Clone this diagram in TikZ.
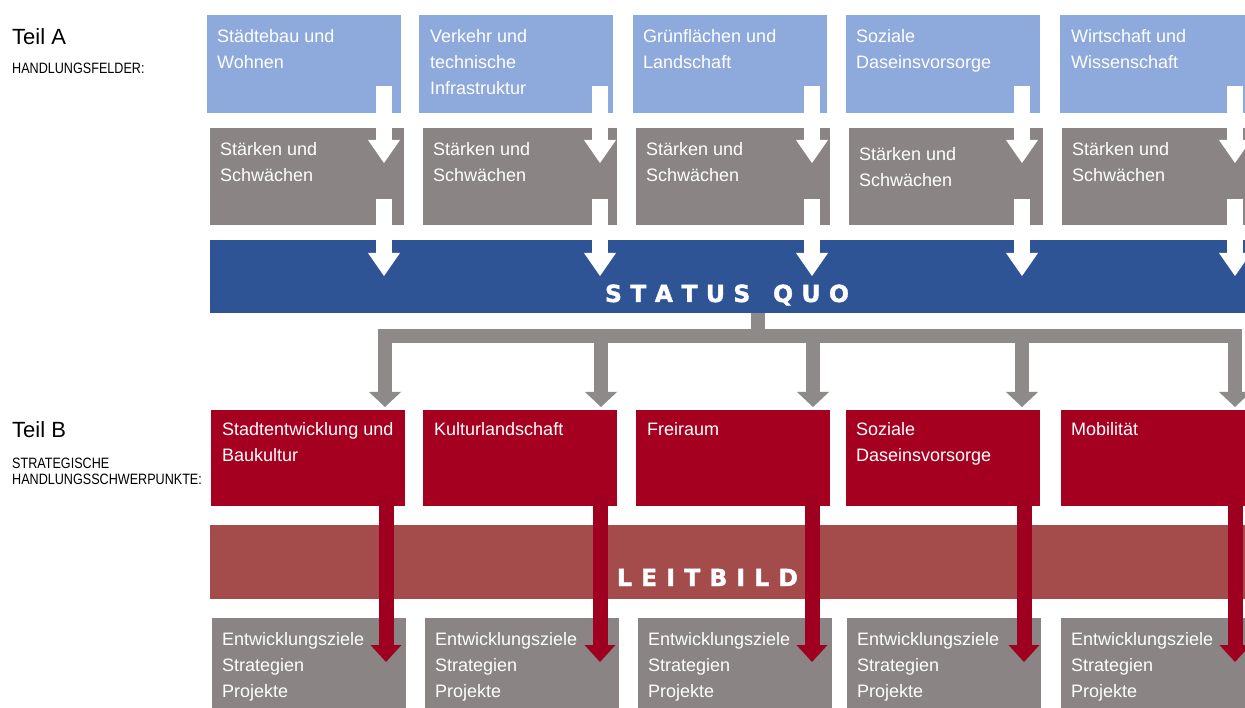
\documentclass[tikz,border=0pt]{standalone}
\usepackage{fontspec}
\setmainfont{Liberation Sans}
\newfontfamily\narrowfont[FakeStretch=0.84]{Liberation Sans}
\newfontfamily\widebold[FakeBold=1.6]{DejaVu Sans Bold}
\usetikzlibrary{arrows.meta,calc}
\definecolor{lblue}{HTML}{8EA9DB}
\definecolor{boxgray}{HTML}{8A8484}
\definecolor{sqblue}{HTML}{2F5496}
\definecolor{boxred}{HTML}{A60021}
\definecolor{arrred}{HTML}{A0001F}
\definecolor{lbred}{HTML}{A44C4C}
\definecolor{conngray}{HTML}{8F8A8A}
\tikzset{gtip/.tip={Triangle[width=32pt,length=15pt,line width=0pt]}}
\begin{document}
\begin{tikzpicture}[x=1pt,y=-1pt,
  box/.style={rectangle, inner sep=0pt, outer sep=0pt, anchor=north west, minimum width=194pt},
  blueb/.style={box, fill=lblue, minimum height=98pt},
  grayb/.style={box, fill=boxgray, minimum height=97pt},
  redb/.style={box, fill=boxred, minimum height=96pt},
  botb/.style={box, fill=boxgray, minimum height=100pt},
  barbox/.style={box, minimum width=1050pt, minimum height=74pt},
  lbl/.style={anchor=north west, inner sep=0pt, align=left, text=white, font=\fontsize{18}{26}\selectfont},
  side/.style={anchor=base west, inner sep=0pt, text=black},
  bigword/.style={anchor=base, inner sep=0pt, text=white, font=\widebold\fontsize{23.5}{26}\selectfont},
  warrow/.style={draw=white, line width=16pt, -{Triangle[width=32pt,length=23pt,line width=0pt]}},
  gconn/.style={draw=conngray, line width=14pt, line join=miter},
  rarrow/.style={draw=arrred, line width=15pt, -{Triangle[width=31pt,length=17pt,line width=0pt]}}
]
\path[use as bounding box, fill=white] (0,0) rectangle (1245,708);
\clip (0,0) rectangle (1245,708);

% row 1: Handlungsfelder
\node[blueb] (a1) at (207,15) {};
\node[blueb] (a2) at (419,15) {};
\node[blueb] (a3) at (633,15) {};
\node[blueb] (a4) at (846,15) {};
\node[blueb] (a5) at (1060,15) {};
% row 2: Staerken und Schwaechen
\node[grayb] (b1) at (210,128) {};
\node[grayb] (b2) at (423,128) {};
\node[grayb] (b3) at (636,128) {};
\node[grayb] (b4) at (849,128) {};
\node[grayb] (b5) at (1062,128) {};
% status quo bar
\node[barbox, fill=sqblue, minimum height=73pt] (sq) at (210,240) {};
% row 3: red
\node[redb] (r1) at (211,410) {};
\node[redb] (r2) at (423,410) {};
\node[redb] (r3) at (636,410) {};
\node[redb] (r4) at (846,410) {};
\node[redb] (r5) at (1061,410) {};
% leitbild bar
\node[barbox, fill=lbred] (lb) at (210,525) {};
% row 4: bottom gray
\node[botb] (c1) at (212,618) {};
\node[botb] (c2) at (425,618) {};
\node[botb] (c3) at (638,618) {};
\node[botb] (c4) at (847,618) {};
\node[botb] (c5) at (1061,618) {};

% gray connector from status quo
\coordinate (hub) at (758,336);
\coordinate (g1) at (385,407);
\coordinate (g2) at (601,407);
\coordinate (g3) at (813,407);
\coordinate (g4) at (1022,407);
\coordinate (g5) at (1235,407);
\draw[gconn] (sq.south -| hub) -- (hub);
\draw[gconn, gtip-gtip] (g1) |- (hub) -| (g5);
\draw[gconn, -gtip] (hub -| g2) -- (g2);
\draw[gconn, -gtip] (hub -| g3) -- (g3);
\draw[gconn, -gtip] (hub -| g4) -- (g4);

% white arrows
\foreach \i/\x in {1/384,2/600,3/812,4/1022,5/1235}{
  \coordinate (ws\i) at (\x,86);
  \coordinate (we\i) at (\x,163);
  \coordinate (vs\i) at (\x,199);
  \coordinate (ve\i) at (\x,276);
  \draw[warrow] (ws\i) -- (we\i);
  \draw[warrow] (vs\i) -- (ve\i);
}

% red arrows
\foreach \i/\x in {1/386,2/600,3/812,4/1024,5/1235}{
  \coordinate (rs\i) at (\x,495);
  \coordinate (re\i) at (\x,662);
  \draw[rarrow] (rs\i) -- (re\i);
}

% texts row 1
\node[lbl] (ta1) at ($(a1.north west)+(10,8.8)$) {\strut Städtebau und\\Wohnen};
\node[lbl] (ta2) at ($(a2.north west)+(11,8.8)$) {\strut Verkehr und\\technische\\Infrastruktur};
\node[lbl] (ta3) at ($(a3.north west)+(10,8.8)$) {\strut Grünflächen und\\Landschaft};
\node[lbl] (ta4) at ($(a4.north west)+(10,8.8)$) {\strut Soziale\\Daseinsvorsorge};
\node[lbl] (ta5) at ($(a5.north west)+(11,8.8)$) {\strut Wirtschaft und\\Wissenschaft};
% texts row 2
\node[lbl] (tb1) at ($(b1.north west)+(10,8.8)$) {\strut Stärken und\\Schwächen};
\node[lbl] (tb2) at ($(b2.north west)+(10,8.8)$) {\strut Stärken und\\Schwächen};
\node[lbl] (tb3) at ($(b3.north west)+(10,8.8)$) {\strut Stärken und\\Schwächen};
\node[lbl] (tb4) at ($(b4.north west)+(10,13.8)$) {\strut Stärken und\\Schwächen};
\node[lbl] (tb5) at ($(b5.north west)+(10,8.8)$) {\strut Stärken und\\Schwächen};
% texts row 3
\node[lbl] (tr1) at ($(r1.north west)+(11,6.8)$) {\strut Stadtentwicklung und\\Baukultur};
\node[lbl] (tr2) at ($(r2.north west)+(11,6.8)$) {\strut Kulturlandschaft};
\node[lbl] (tr3) at ($(r3.north west)+(11,6.8)$) {\strut Freiraum};
\node[lbl] (tr4) at ($(r4.north west)+(10,6.8)$) {\strut Soziale\\Daseinsvorsorge};
\node[lbl] (tr5) at ($(r5.north west)+(10,6.8)$) {\strut Mobilität};
% texts row 4
\foreach \i in {1,...,5}{
  \node[lbl] (tc\i) at ($(c\i.north west)+(10,8.8)$) {\strut Entwicklungsziele\\Strategien\\Projekte};
}

% bar words
\node[bigword] (sqt) at (727,302) {\makebox[244pt][s]{S\hfil T\hfil A\hfil T\hfil U\hfil S\hskip 0pt plus 2.7fil Q\hfil U\hfil O}};
\node[bigword] (lbt) at (707.5,586) {\makebox[181pt][s]{L\hfil E\hfil I\hfil T\hfil B\hfil I\hfil L\hfil D}};

% side labels
\node[side, font=\fontsize{22}{26}\selectfont] (teila) at (12,45) {Teil A};
\node[side, font=\narrowfont\fontsize{15}{16}\selectfont] (hf) at (12,74) {HANDLUNGSFELDER:};
\node[side, font=\fontsize{22}{26}\selectfont] (teilb) at (12,438) {Teil B};
\node[side, font=\narrowfont\fontsize{15}{16}\selectfont] (st1) at (12,468) {STRATEGISCHE};
\node[side, font=\narrowfont\fontsize{15}{16}\selectfont] (st2) at (12,484) {HANDLUNGSSCHWERPUNKTE:};
\end{tikzpicture}
\end{document}
